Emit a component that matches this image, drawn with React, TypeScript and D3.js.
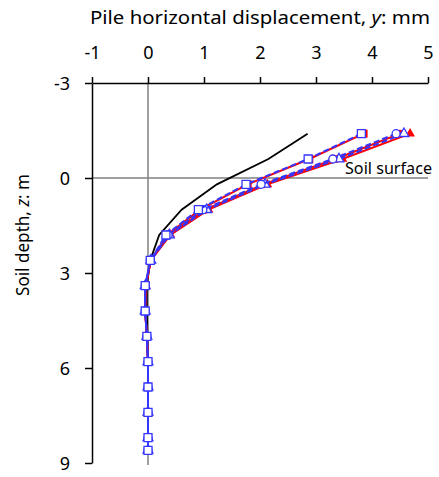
import { useEffect, useRef } from "react";
import * as d3 from "d3";

// depth of each reading, m
const depths = [-1.4, -0.6, 0.2, 1.0, 1.8, 2.6, 3.4, 4.2, 5.0, 5.8, 6.6, 7.4, 8.2, 8.6];

// pile horizontal displacement, mm
const blackCurve = [2.85, 2.15, 1.23, 0.6, 0.2, 0.04, -0.02, -0.02, -0.01, 0, 0, 0, 0, 0];
const redSquare = [3.85, 2.88, 1.78, 0.93, 0.34, 0.05, -0.04, -0.05, -0.02, 0, 0, 0, 0, 0];
const blueSquare = [3.81, 2.86, 1.75, 0.9, 0.32, 0.04, -0.05, -0.05, -0.02, 0, 0, 0, 0, 0];
const redCircle = [4.5, 3.35, 2.06, 1.02, 0.37, 0.05, -0.04, -0.05, -0.02, 0, 0, 0, 0, 0];
const blueCircle = [4.43, 3.3, 2.02, 0.98, 0.36, 0.04, -0.05, -0.05, -0.02, 0, 0, 0, 0, 0];
const redTriangle = [4.68, 3.47, 2.13, 1.08, 0.4, 0.05, -0.04, -0.05, -0.02, 0, 0, 0, 0, 0];
const blueTriangle = [4.57, 3.41, 2.09, 1.05, 0.38, 0.05, -0.05, -0.05, -0.02, 0, 0, 0, 0, 0];

const xTicks = [-1, 0, 1, 2, 3, 4, 5];
const yTicks = [-3, 0, 3, 6, 9];

const FONT = "'Noto Sans', sans-serif";

export default function App() {
  const ref = useRef<SVGSVGElement>(null);

  useEffect(() => {
    document.body.style.margin = "0";
    const width = 439;
    const height = 477;
    const svg = d3.select(ref.current);
    svg.selectAll("*").remove();
    svg.attr("width", width).attr("height", height);

    const x = d3.scaleLinear().domain([-1, 5]).range([92, 428]);
    const y = d3.scaleLinear().domain([-3, 9]).range([83, 463]);

    // reference lines at x = 0 and z = 0
    svg
      .append("line")
      .attr("x1", x(0))
      .attr("x2", x(0))
      .attr("y1", y(-3))
      .attr("y2", y(9) + 2)
      .attr("stroke", "#808080")
      .attr("stroke-width", 1.5);
    svg
      .append("line")
      .attr("x1", x(-1))
      .attr("x2", x(5))
      .attr("y1", y(0))
      .attr("y2", y(0))
      .attr("stroke", "#808080")
      .attr("stroke-width", 1.5);

    // axes
    const fmt = (d: d3.NumberValue) => String(d);
    const gx = svg
      .append("g")
      .attr("transform", `translate(0,${y(-3)})`)
      .call(d3.axisTop(x).tickValues(xTicks).tickSize(6).tickSizeOuter(0).tickFormat(fmt));
    const gy = svg
      .append("g")
      .attr("transform", `translate(${x(-1)},0)`)
      .call(d3.axisLeft(y).tickValues(yTicks).tickSize(7).tickSizeOuter(0).tickFormat(fmt));
    [gx, gy].forEach((g) => {
      g.select(".domain").attr("stroke", "#000").attr("stroke-width", 1.5);
      g.selectAll(".tick line").attr("stroke", "#000").attr("stroke-width", 1.5);
      g.selectAll(".tick text")
        .attr("fill", "#000")
        .style("font-family", FONT)
        .style("font-size", "18px");
    });
    gx.selectAll(".tick text").attr("y", -24).attr("dy", 0);
    gy.selectAll(".tick text").attr("x", -22).attr("dy", "0.36em");

    // series
    const pts = (vals: number[]) => vals.map((v, i) => [x(v), y(depths[i])] as [number, number]);
    const line = d3.line();

    svg
      .append("path")
      .attr("d", line(pts(blackCurve)))
      .attr("fill", "none")
      .attr("stroke", "#000")
      .attr("stroke-width", 1.8);

    const groups = [
      { red: redTriangle, blue: blueTriangle, sym: d3.symbolTriangle, size: 42 },
      { red: redCircle, blue: blueCircle, sym: d3.symbolCircle, size: 50 },
      { red: redSquare, blue: blueSquare, sym: d3.symbolSquare, size: 64 },
    ];

    groups.forEach((gr) => {
      svg
        .append("path")
        .attr("d", line(pts(gr.red)))
        .attr("fill", "none")
        .attr("stroke", "#ff0000")
        .attr("stroke-width", 2);
      svg
        .append("g")
        .selectAll("path")
        .data(pts(gr.red))
        .join("path")
        .attr("transform", (d) => `translate(${d[0]},${d[1]})`)
        .attr("d", d3.symbol(gr.sym, gr.size)())
        .attr("fill", "#ff0000");
    });

    groups.forEach((gr) => {
      svg
        .append("path")
        .attr("d", line(pts(gr.blue)))
        .attr("fill", "none")
        .attr("stroke", "#3535ff")
        .attr("stroke-width", 2)
        .attr("stroke-dasharray", "6,3");
      svg
        .append("g")
        .selectAll("path")
        .data(pts(gr.blue))
        .join("path")
        .attr("transform", (d) => `translate(${d[0]},${d[1]})`)
        .attr("d", d3.symbol(gr.sym, gr.size)())
        .attr("fill", "#fff")
        .attr("stroke", "#3535ff")
        .attr("stroke-width", 1.3);
    });

    // labels
    svg
      .append("text")
      .attr("x", 90)
      .attr("y", 24)
      .attr("textLength", 340)
      .attr("lengthAdjust", "spacingAndGlyphs")
      .style("font-family", FONT)
      .style("font-size", "18px")
      .call((t) => {
        t.append("tspan").text("Pile horizontal displacement, ");
        t.append("tspan").style("font-style", "italic").text("y");
        t.append("tspan").text(": mm");
      });

    svg
      .append("text")
      .attr("transform", `translate(29,296) rotate(-90)`)
      .attr("textLength", 122)
      .attr("lengthAdjust", "spacingAndGlyphs")
      .style("font-family", FONT)
      .style("font-size", "18px")
      .call((t) => {
        t.append("tspan").text("Soil depth, ");
        t.append("tspan").style("font-style", "italic").text("z");
        t.append("tspan").text(": m");
      });

    svg
      .append("text")
      .attr("x", 345)
      .attr("y", y(0) - 4)
      .attr("textLength", 87)
      .attr("lengthAdjust", "spacingAndGlyphs")
      .style("font-family", FONT)
      .style("font-size", "17px")
      .text("Soil surface");
  }, []);

  return <svg ref={ref} style={{ display: "block" }} />;
}
